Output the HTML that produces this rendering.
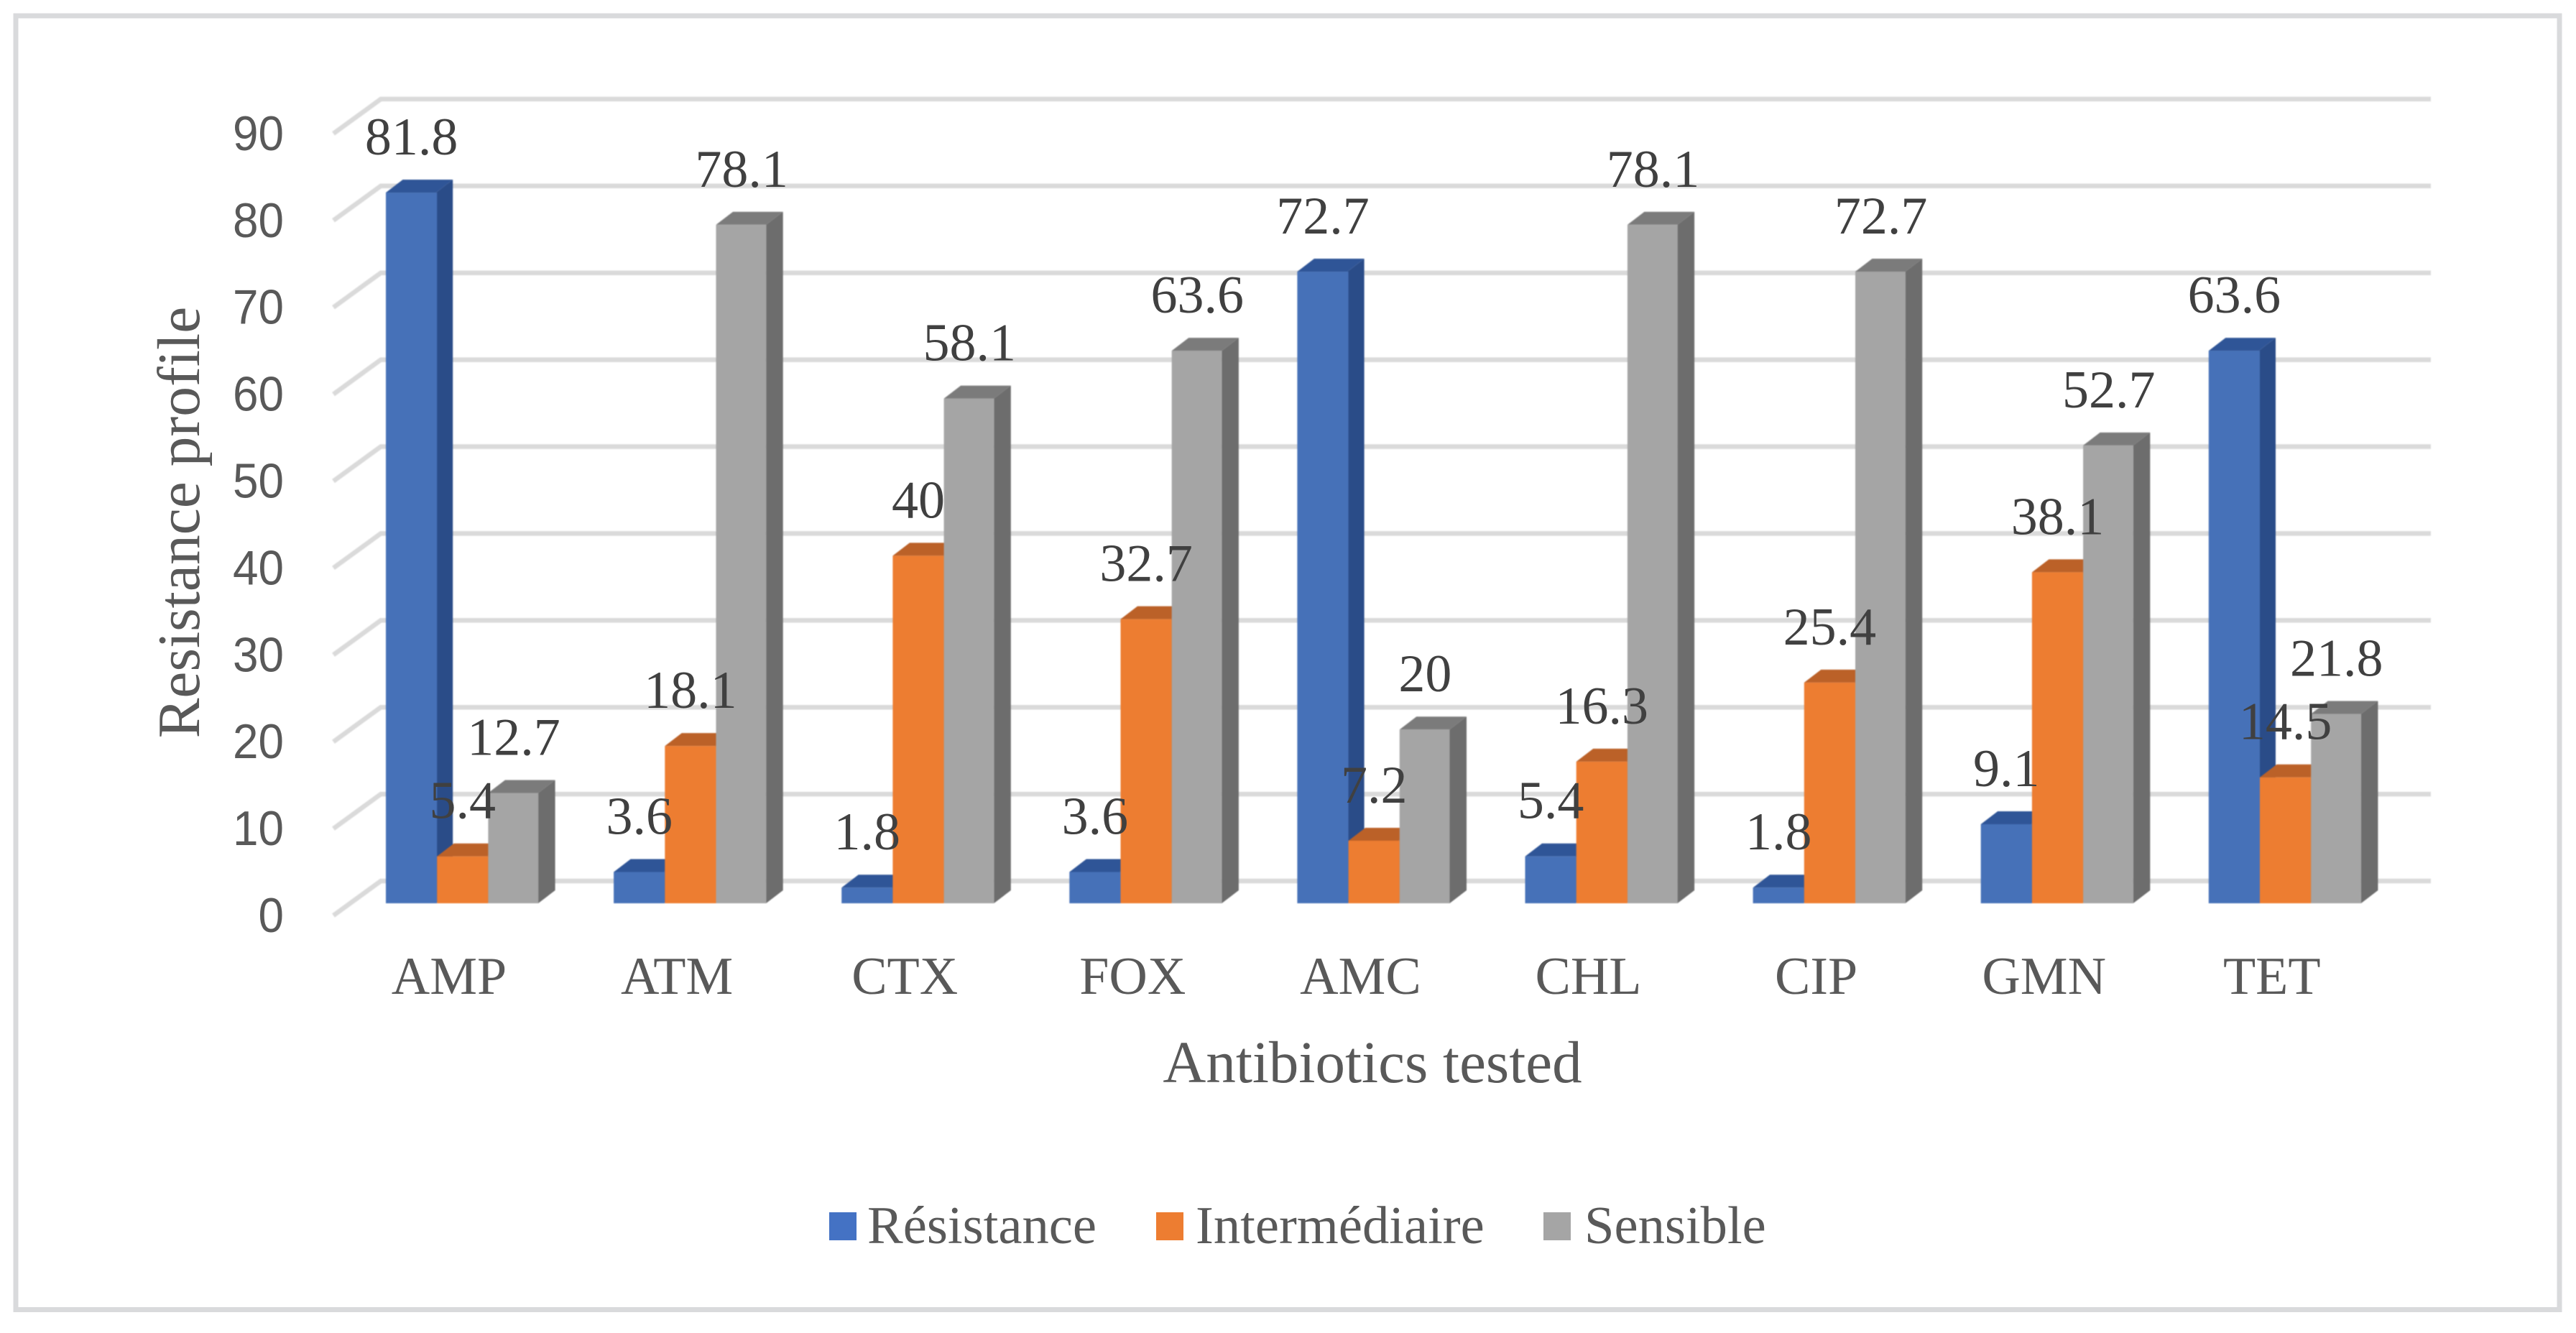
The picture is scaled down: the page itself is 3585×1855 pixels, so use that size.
<!DOCTYPE html>
<html lang="en">
<head>
<meta charset="utf-8">
<title>Resistance profile by antibiotic</title>
<style>
html,body{margin:0;padding:0;background:#fff;width:3585px;height:1855px;overflow:hidden}
svg{display:block;position:absolute;left:0;top:0}
.serif{font-family:"Liberation Serif",serif}
.sans{font-family:"Liberation Sans",sans-serif}
</style>
</head>
<body>
<svg id="chart" xmlns="http://www.w3.org/2000/svg" width="3585" height="1855" viewBox="0 0 3585 1855">
  <rect x="0" y="0" width="3585" height="1855" fill="#ffffff"/>
  <rect x="22" y="22" width="3540" height="1800.5" fill="none" stroke="#d9dadc" stroke-width="7"/>
  <g id="plot">
    <g id="grid" style="filter:blur(0.8px)"></g>
    <g id="ticks"></g>
    <g id="bars" style="filter:blur(0.8px)"></g>
    <g id="cats"></g>
    <g id="vals"></g>
    <text class="serif" transform="translate(277,727) rotate(-90)" text-anchor="middle" font-size="83.5" fill="#595959">Resistance profile</text>
    <text class="serif" x="1910" y="1506" text-anchor="middle" font-size="83" fill="#595959">Antibiotics tested</text>
    <g>
      <g>
        <rect x="1154" y="1687" width="38" height="39" fill="#4472c4"/>
        <text class="serif" x="1207" y="1730" font-size="74.6" fill="#595959">Résistance</text>
      </g>
      <g>
        <rect x="1609" y="1687" width="38" height="39" fill="#ed7d31"/>
        <text class="serif" x="1664" y="1730" font-size="74.6" fill="#595959">Intermédiaire</text>
      </g>
      <g>
        <rect x="2148" y="1687" width="38" height="39" fill="#a5a5a5"/>
        <text class="serif" x="2205" y="1730" font-size="74.6" fill="#595959">Sensible</text>
      </g>
    </g>
  </g>
</svg>
<script>
const categories = ["AMP","ATM","CTX","FOX","AMC","CHL","CIP","GMN","TET"];
const resistance = [81.8,3.6,1.8,3.6,72.7,5.4,1.8,9.1,63.6];
const intermediate = [5.4,18.1,40,32.7,7.2,16.3,25.4,38.1,14.5];
const sensitive = [12.7,78.1,58.1,63.6,20,78.1,72.7,52.7,21.8];
const yTicks = [0,10,20,30,40,50,60,70,80,90];

const NS = "http://www.w3.org/2000/svg";
const seriesList = [
  {key:"resistance", values:resistance, front:"#4671b8", side:"#2a4c88", top:"#2f5597"},
  {key:"intermediate", values:intermediate, front:"#ed7d31", side:"#b5612a", top:"#bb6128"},
  {key:"sensitive", values:sensitive, front:"#a5a5a5", side:"#6d6d6d", top:"#7b7b7b"}
];
const PER_UNIT = 12.09;
const BAR_BASE = 1257, GRID_BASE = 1226;
const DEPTH_X = 23.5, DEPTH_Y = 18;
const GROUP_START = 537, GROUP_STEP = 317.1, BAR_STEP = 71.2, BAR_W = 69.7;

function barTopY(v){ return BAR_BASE - v * PER_UNIT; }
function gridY(v){ return GRID_BASE - v * PER_UNIT; }
function groupX(i){ return GROUP_START + i * GROUP_STEP; }
function barX(i,s){ return groupX(i) + s * BAR_STEP; }

function make(tag, attrs, parent){
  const el = document.createElementNS(NS, tag);
  for (const k in attrs) el.setAttribute(k, attrs[k]);
  parent.appendChild(el);
  return el;
}
function poly(points, fill, parent){
  return make("polygon", {points: points.map(p => p.join(",")).join(" "), fill: fill}, parent);
}

const gridG = document.getElementById("grid");
const tickG = document.getElementById("ticks");
yTicks.forEach(function(t){
  const y = gridY(t);
  const line = make("polyline", {points: "464," + (y + 48) + " 530," + y + " 3383," + y, fill: "none", stroke: "#dadada", "stroke-width": 6.5}, gridG);
  
  
  const label = String(t);
  const txt = make("text", {x: 395, y: y + 71, "text-anchor": "end", "font-size": 68, fill: "#595959", "class": "sans", textLength: label.length * 35.5, lengthAdjust: "spacingAndGlyphs"}, tickG);
  txt.textContent = label;
  
  
});

const barsG = document.getElementById("bars");
const catsG = document.getElementById("cats");
const valsG = document.getElementById("vals");
categories.forEach(function(cat, i){
  const group = make("g", {}, barsG);
  
  
  seriesList.forEach(function(s, si){
    const v = s.values[i];
    const x0 = barX(i, si), x1 = x0 + (si === 2 ? BAR_W : BAR_STEP);
    const yT = barTopY(v);
    const bar = make("g", {}, group);
    
    
    poly([[x0+BAR_W,yT],[x0+BAR_W+DEPTH_X,yT-DEPTH_Y],[x0+BAR_W+DEPTH_X,BAR_BASE-DEPTH_Y],[x0+BAR_W,BAR_BASE]], s.side, bar);
    poly([[x0,yT],[x0+DEPTH_X,yT-DEPTH_Y],[x0+BAR_W+DEPTH_X,yT-DEPTH_Y],[x0+BAR_W,yT]], s.top, bar);
    make("rect", {x:x0, y:yT, width:x1-x0, height:BAR_BASE-yT, fill:s.front}, bar);
    const lab = make("text", {x: x0 + BAR_STEP/2, y: yT - DEPTH_Y - 35, "text-anchor": "middle", "font-size": 74, fill: "#404040", "class": "serif"}, valsG);
    lab.textContent = String(v);
    
    
  });
  const c = make("text", {x: groupX(i) + 88, y: 1383, "text-anchor": "middle", "font-size": 74, fill: "#595959", "class": "serif"}, catsG);
  c.textContent = cat;
  
  
});
</script>
</body>
</html>
